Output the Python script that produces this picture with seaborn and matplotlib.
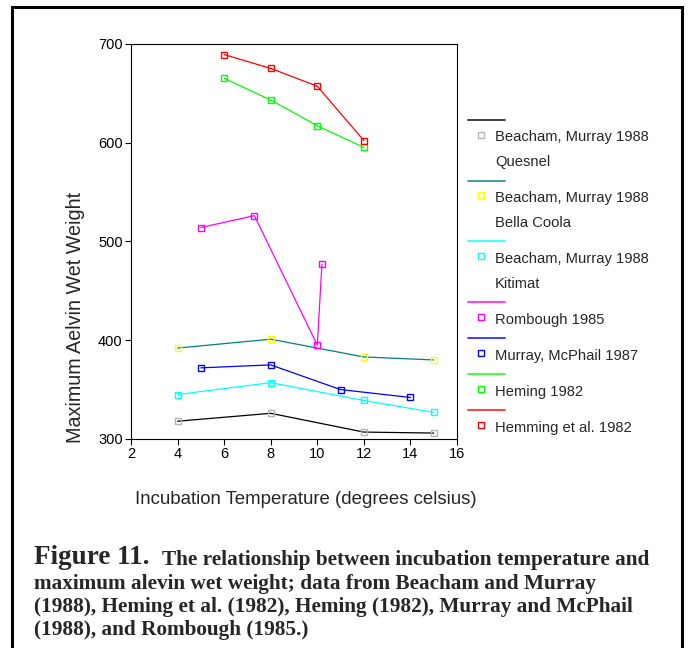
import matplotlib
matplotlib.use("Agg")
import matplotlib.pyplot as plt
import pandas as pd
import seaborn as sns

# Data (temperature in deg C, max alevin wet weight)
series_names = ["Beacham, Murray 1988\nQuesnel", "Beacham, Murray 1988\nBella Coola",
                "Beacham, Murray 1988\nKitimat", "Rombough 1985", "Murray, McPhail 1987",
                "Heming 1982", "Hemming et al. 1982"]
quesnel_t = [4, 8, 12, 15]
quesnel_w = [318, 326, 307, 306]
bella_t = [4, 8, 12, 15]
bella_w = [392, 401, 383, 380]
kitimat_t = [4, 8, 12, 15]
kitimat_w = [345, 357, 339, 327]
rombough_t = [5, 7.3, 10, 10.2]
rombough_w = [514, 526, 395, 477]
murray_t = [5, 8, 11, 14]
murray_w = [372, 375, 350, 342]
heming_t = [6, 8, 10, 12]
heming_w = [665, 643, 617, 595]
hemming_t = [6, 8, 10, 12]
hemming_w = [689, 675, 657, 602]

line_colors = ["#000000", "#008080", "#00ffff", "#ff00ff", "#0000ff", "#00ff00", "#ff0000"]
marker_colors = ["#b4b4b4", "#ffff00", "#00ffff", "#ff00ff", "#0000ff", "#00ff00", "#ff0000"]

temps = [quesnel_t, bella_t, kitimat_t, rombough_t, murray_t, heming_t, hemming_t]
weights = [quesnel_w, bella_w, kitimat_w, rombough_w, murray_w, heming_w, hemming_w]

rows = []
for name, ts, ws in zip(series_names, temps, weights):
    for t, w in zip(ts, ws):
        rows.append({"series": name, "temp": t, "weight": w})
df = pd.DataFrame(rows)

sns.set_style("ticks")
plt.rcParams["font.family"] = ["Liberation Sans", "DejaVu Sans"]

W, H = 688, 648
fig = plt.figure(figsize=(W / 100, H / 100), dpi=100)
ax = fig.add_axes([131 / W, 1 - 439 / H, 326 / W, 395.3 / H])

for i, name in enumerate(series_names):
    sub = df[df["series"] == name]
    sns.lineplot(data=sub, x="temp", y="weight", sort=False, ax=ax,
                 color=line_colors[i], lw=0.9, marker="s", ms=4.5,
                 mfc="none", mec=marker_colors[i], mew=1.0)

ax.set_xlim(2, 16)
ax.set_ylim(300, 700)
ax.set_xticks(range(2, 17, 2))
ax.set_yticks(range(300, 701, 100))
ax.set_xlabel("")
ax.set_ylabel("")
for s in ax.spines.values():
    s.set_visible(True)
    s.set_linewidth(0.8)
    s.set_color("black")
ax.tick_params(axis="both", direction="out", length=4, width=0.8,
               labelsize=10.5, pad=2, colors="black")

fig.text(75.5 / W, 1 - 317 / H, "Maximum Aelvin Wet Weight", rotation=90,
         ha="center", va="center", fontsize=14.2)
fig.text(305.5 / W, 1 - 500 / H, "Incubation Temperature (degrees celsius)",
         ha="center", va="center", fontsize=13.4)

# overlay in pixel units for legend, frame and caption
ov = fig.add_axes([0, 0, 1, 1], zorder=5)
ov.set_xlim(0, W)
ov.set_ylim(H, 0)
ov.axis("off")
ov.patch.set_alpha(0)

# outer frame (bottom edge runs off the page)
ov.plot([12, 12, 682, 682], [H + 5, 7, 7, H + 5], color="black", lw=2.2,
        solid_joinstyle="miter", clip_on=False)

# legend: line sample, then marker + label
y = 120
for i, name in enumerate(series_names):
    ov.plot([468, 505], [y, y], color=line_colors[i], lw=1.4, alpha=0.75)
    ov.plot([480.7], [y + 14.5], marker="s", ms=4, mfc="none",
            mec=marker_colors[i], mew=1.0, ls="none")
    parts = name.split("\n")
    ty = y + 17.5
    for k, p in enumerate(parts):
        ov.text(495, ty + k * 24.7, p, ha="left", va="center", fontsize=10.6)
    y = ty + (len(parts) - 1) * 24.7 + 18.5

# caption
serif = ["Liberation Serif", "DejaVu Serif"]
ov.text(34, 564.5, "Figure 11.", family=serif, weight="bold", fontsize=19.5,
        ha="left", va="baseline")
ov.text(162, 564.5, "The relationship between incubation temperature and",
        family=serif, weight="bold", fontsize=15.3, ha="left", va="baseline")
caption_lines = ["maximum alevin wet weight; data from Beacham and Murray",
                 "(1988), Heming et al. (1982), Heming (1982), Murray and McPhail",
                 "(1988), and Rombough (1985.)"]
for k, line in enumerate(caption_lines):
    ov.text(34, 588.5 + k * 23.5, line, family=serif, weight="bold",
            fontsize=15.3, ha="left", va="baseline")

fig.savefig("out.png", dpi=100, facecolor="white")
